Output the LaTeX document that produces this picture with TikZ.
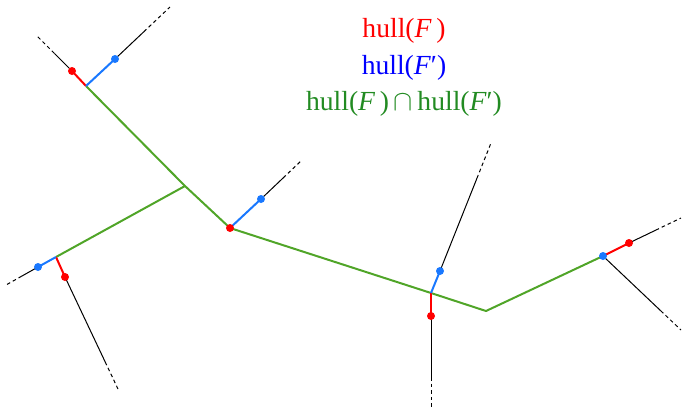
\documentclass[tikz,border=0pt]{standalone}
\usepackage{fontspec}
\setmainfont{Liberation Serif}
\usetikzlibrary{calc}
\definecolor{hred}{RGB}{255,0,0}
\definecolor{hblue}{RGB}{25,120,255}
\definecolor{hgreen}{RGB}{80,165,40}
\definecolor{tgreen}{RGB}{34,139,34}
\definecolor{tblue}{RGB}{0,0,255}
\tikzset{
 greenseg/.style={hgreen, line width=1pt, line join=round},
 redseg/.style={hred, line width=1pt},
 blueseg/.style={hblue, line width=1pt},
 raysolid/.style={black, line width=0.5pt},
 raydash/.style={black, line width=0.5pt, dash pattern=on 1.8pt off 1.5pt},
 reddot/.style={circle, fill=hred, inner sep=0pt, minimum size=4pt},
 bluedot/.style={circle, fill=hblue, inner sep=0pt, minimum size=4pt},
 hulltext/.style={font=\fontsize{13.8}{16}\selectfont, anchor=base, inner sep=0pt}
}
\newcommand\myray[3]{%
  \draw[raysolid] (#1) -- ($(#2)!#3!(#1)$);
  \draw[raydash] ($(#2)!#3!(#1)$) -- (#2);}
\newcommand\mycap{\,$\cap$\,}
\begin{document}
\begin{tikzpicture}[x=0.5pt,y=-0.5pt]
\useasboundingbox (0,0) rectangle (682,409);
% vertices
\coordinate (A) at (86,86);
\coordinate (B) at (185,186);
\coordinate (C) at (56,257);
\coordinate (D) at (230,228);
\coordinate (E) at (431,293);
\coordinate (F) at (486,311);
\coordinate (G) at (603,256);
% hull end points
\coordinate (a1) at (72,71);
\coordinate (a2) at (115,59);
\coordinate (c1) at (38,267);
\coordinate (c2) at (65,277);
\coordinate (d1) at (261,199);
\coordinate (e1) at (440,271);
\coordinate (e2) at (431,316);
\coordinate (g1) at (629,243);
% ray ends
\coordinate (a1e) at (36,35);
\coordinate (a2e) at (170,7);
\coordinate (c1e) at (6,285);
\coordinate (c2e) at (118,389);
\coordinate (d1e) at (302,160);
\coordinate (e1e) at (491,143);
\coordinate (e2e) at (431,407);
\coordinate (g1e) at (681,218);
\coordinate (g2e) at (681,330);
% rays
\myray{a1}{a1e}{13pt}
\myray{a2}{a2e}{18pt}
\myray{c1}{c1e}{9pt}
\myray{c2}{c2e}{15pt}
\myray{d1}{d1e}{13pt}
\myray{e1}{e1e}{19pt}
\myray{e2}{e2e}{15pt}
\myray{g1}{g1e}{14pt}
\myray{G}{g2e}{14pt}
% intersection of hulls
\draw[greenseg] (A) -- (B) -- (D) -- (E) -- (F) -- (G);
\draw[greenseg] (B) -- (C);
% hull(F)
\draw[redseg] (A) -- (a1);
\draw[redseg] (C) -- (c2);
\draw[redseg] (E) -- (e2);
\draw[redseg] (G) -- (g1);
% hull(F')
\draw[blueseg] (A) -- (a2);
\draw[blueseg] (C) -- (c1);
\draw[blueseg] (D) -- (d1);
\draw[blueseg] (E) -- (e1);
% dots
\node[reddot] (pa1) at (a1) {};
\node[reddot] (pc2) at (c2) {};
\node[reddot] (pD) at (D) {};
\node[reddot] (pe2) at (e2) {};
\node[reddot] (pg1) at (g1) {};
\node[bluedot] (pa2) at (a2) {};
\node[bluedot] (pc1) at (c1) {};
\node[bluedot] (pd1) at (d1) {};
\node[bluedot] (pe1) at (e1) {};
\node[bluedot] (pG) at (G) {};
% legend
\node[hulltext, text=hred] (t1) at (404,37) {hull(\textit{F}\,)};
\node[hulltext, text=tblue] (t2) at (404,74) {hull(\textit{F}′)};
\node[hulltext, text=tgreen] (t3) at (404,110) {hull(\textit{F}\,)\mycap hull(\textit{F}′)};
\end{tikzpicture}
\end{document}
